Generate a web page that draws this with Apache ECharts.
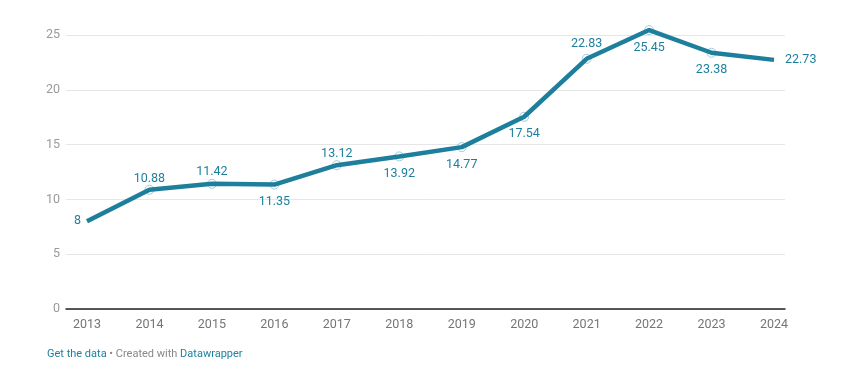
<!DOCTYPE html>
<html><head><meta charset="utf-8">
<script src="https://cdn.jsdelivr.net/npm/echarts@6/dist/echarts.min.js"></script>
<style>html,body{margin:0;padding:0;background:#fff}#c{width:854px;height:389px}</style>
</head><body><div id="c"></div>
<script>
const years = [2013,2014,2015,2016,2017,2018,2019,2020,2021,2022,2023,2024];
const values = [8,10.88,11.42,11.35,13.12,13.92,14.77,17.54,22.83,25.45,23.38,22.73];
const labelPos = ['left','top','top','bottom','top','bottom','bottom','bottom','top','bottom','bottom','right'];
const labelDist = [1,-1,0,6,0,6,6,6,3,6,6,6];
const showMarker = [false,true,true,true,true,true,true,true,true,true,true,false];
const yTicks = [0,5,10,15,20,25];

const lineColor = '#1d7f9c';
const chart = echarts.init(document.getElementById('c'), null, {renderer:'canvas'});
chart.setOption({
  animation:false,
  textStyle:{fontFamily:'Roboto'},
  grid:{left:66, right:69, top:35, bottom:80},
  xAxis:{
    type:'value', min:2012.664, max:2024.176,
    axisLine:{show:true, onZero:false, lineStyle:{color:'#222', width:1.5}},
    axisTick:{show:false},
    splitLine:{show:false},
    axisLabel:{customValues:years, color:'#757575', fontSize:12.5, margin:9, formatter:v=>String(v)}
  },
  yAxis:{
    type:'value', min:0, max:25, interval:5,
    axisLine:{show:false}, axisTick:{show:false},
    splitLine:{lineStyle:{color:'#e6e6e6', width:1}},
    axisLabel:{customValues:yTicks, color:'#9a9a9a', fontSize:12.5, margin:6,
      formatter:v=>String(v)}
  },
  series:[{
    type:'scatter', clip:false, z:2,
    data: years.map((y,i)=>({
      value:[y,values[i]],
      itemStyle: showMarker[i] ? {} : {color:'rgba(0,0,0,0)', borderColor:'rgba(0,0,0,0)'},
      label:{position:labelPos[i], distance:labelDist[i]}
    })),
    symbol:'circle', symbolSize:9,
    itemStyle:{opacity:1, color:'rgba(255,255,255,0.5)', borderColor:'#9ccbdb', borderWidth:1},
    label:{show:true, color:lineColor, fontSize:12.5,
      formatter:p=>String(p.value[1])},
    emphasis:{disabled:true}
  },{
    type:'line', clip:false, z:3,
    data: years.map((y,i)=>[y,values[i]]),
    lineStyle:{color:lineColor, width:4.5},
    symbol:'none'
  }],
  graphic:[{
    type:'text', left:47, top:349,
    style:{
      text:'{a|Get the data}{b| • Created with }{a|Datawrapper}',
      rich:{
        a:{fill:'#1d81a2', fontSize:11, fontFamily:'Roboto'},
        b:{fill:'#888', fontSize:11, fontFamily:'Roboto'}
      }
    }
  }]
});
</script></body></html>
